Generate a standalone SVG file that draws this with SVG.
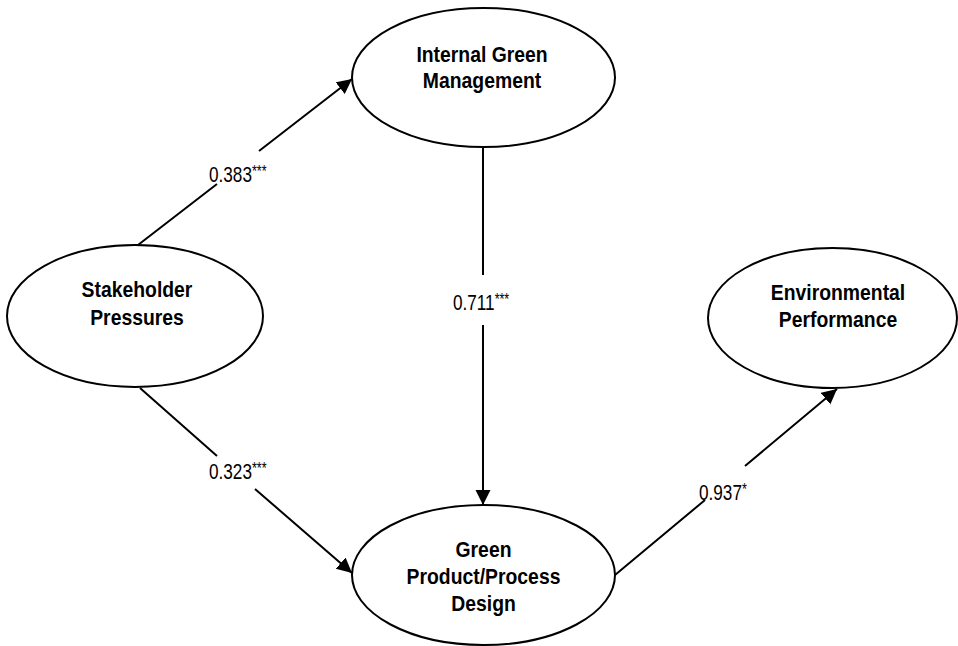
<svg xmlns="http://www.w3.org/2000/svg" width="958" height="646" viewBox="0 0 958 646">
  <style>
    .node ellipse { fill: #ffffff; stroke: #000000; stroke-width: 2; }
    .node text { font-family: "Liberation Sans", Arial, sans-serif; font-weight: bold; font-size: 22px; fill: #000000; text-anchor: middle; }
    .conn { fill: none; stroke: #000000; stroke-width: 2; marker-end: url(#arrow); }
    .lbl { font-family: "Liberation Sans", Arial, sans-serif; font-size: 22px; fill: #000000; }
    .sup { font-size: 16px; }
  </style>
  <defs>
    <marker id="arrow" markerUnits="userSpaceOnUse" markerWidth="16" markerHeight="16" refX="15" refY="7.5" orient="auto">
      <path d="M0,0 L15,7.5 L0,15 Z" fill="#000000"/>
    </marker>
  </defs>
  <rect x="0" y="0" width="958" height="646" fill="#ffffff"/>

  <g id="connectors">
    <path class="conn" d="M138,245 L217,184 M259,151 L352,79"/>
    <path class="conn" d="M483,147 L483,275 M483,325 L483,505"/>
    <path class="conn" d="M140,388 L217,456 M255,489 L352,573"/>
    <path class="conn" d="M615,575 L705,500 M745,466 L837,389"/>
    <g transform="translate(209,181.5) scale(0.78,1)"><text class="lbl" x="0" y="0">0.383<tspan class="sup" dy="-5">***</tspan></text></g>
    <g transform="translate(453,310) scale(0.78,1)"><text class="lbl" x="0" y="0">0.711<tspan class="sup" dy="-5">***</tspan></text></g>
    <g transform="translate(209,479) scale(0.78,1)"><text class="lbl" x="0" y="0">0.323<tspan class="sup" dy="-5">***</tspan></text></g>
    <g transform="translate(699,500) scale(0.78,1)"><text class="lbl" x="0" y="0">0.937<tspan class="sup" dy="-5">*</tspan></text></g>
  </g>

  <g id="internal-green-management" class="node">
    <ellipse cx="483.5" cy="77.5" rx="131.5" ry="69.5"/>
    <g transform="translate(482,0) scale(0.88,1)">
      <text x="0" y="62">Internal Green</text>
      <text x="0" y="88">Management</text>
    </g>
  </g>

  <g id="stakeholder-pressures" class="node">
    <ellipse cx="135" cy="316" rx="128" ry="71"/>
    <g transform="translate(137,0) scale(0.88,1)">
      <text x="0" y="297">Stakeholder</text>
      <text x="0" y="325">Pressures</text>
    </g>
  </g>

  <g id="green-product-process-design" class="node">
    <ellipse cx="483.5" cy="575" rx="131.5" ry="70"/>
    <g transform="translate(483.5,0) scale(0.88,1)">
      <text x="0" y="557">Green</text>
      <text x="0" y="584">Product/Process</text>
      <text x="0" y="611">Design</text>
    </g>
  </g>

  <g id="environmental-performance" class="node">
    <ellipse cx="832.5" cy="318" rx="124.5" ry="70"/>
    <g transform="translate(838,0) scale(0.88,1)">
      <text x="0" y="300">Environmental</text>
      <text x="0" y="327">Performance</text>
    </g>
  </g>
</svg>
